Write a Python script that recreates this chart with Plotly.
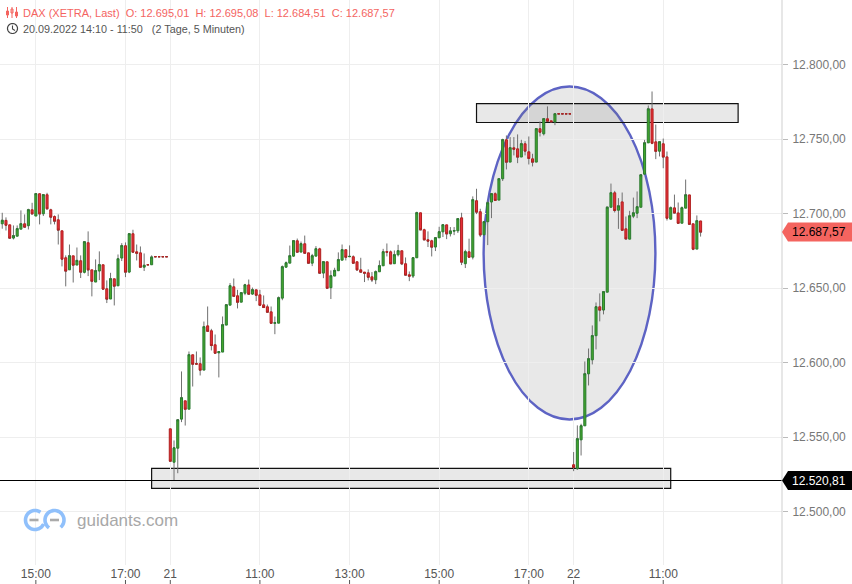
import math
import plotly.graph_objects as go

tick_positions = [10, 34, 46, 70, 94, 118, 142, 154, 178]
tick_labels = ["15:00", "17:00", "21", "11:00", "13:00", "15:00", "17:00", "22", "11:00"]
price_ticks = [12500, 12550, 12600, 12650, 12700, 12750, 12800]
last_price = 12687.57
low_price = 12520.81

opens = [
 12686.0,12693.1,12695.4,12692.4,12683.5,12684.8,12689.5,12693.1,12691.8,12702.5,
 12698.3,12713.3,12699.8,12712.6,12702.5,12698.0,12695.8,12688.4,12670.3,12662.2,
 12671.6,12665.4,12668.3,12660.5,12680.4,12662.2,12654.0,12661.4,12665.6,12649.5,
 12642.6,12656.2,12651.5,12670.1,12678.4,12660.7,12686.4,12674.3,12673.6,12664.0,
 12665.61,12665.6,12671.01,12671.01,12671.01,12671.01,12555.5,12533.1,12542.5,12562.0,
 12574.3,12568.7,12605.2,12599.2,12599.2,12594.9,12624.6,12621.3,12611.9,12606.5,
 12607.0,12625.1,12638.5,12650.8,12644.8,12640.5,12646.5,12652.1,12645.9,12648.8,
 12645.4,12638.7,12637.4,12634.0,12626.4,12626.4,12643.2,12664.0,12666.7,12671.4,
 12681.7,12674.1,12679.7,12673.6,12666.7,12671.4,12676.3,12660.0,12667.6,12650.2,
 12658.0,12661.6,12668.7,12675.7,12671.0,12671.0,12667.6,12662.2,12660.7,12660.2,
 12657.5,12655.5,12660.9,12664.9,12674.4,12674.3,12666.3,12672.3,12675.0,12666.3,
 12658.9,12658.0,12670.3,12700.5,12689.1,12682.4,12681.7,12677.5,12683.7,12687.7,
 12692.4,12686.4,12688.2,12688.4,12697.1,12666.3,12674.3,12670.7,12708.6,12701.2,
 12685.7,12694.5,12707.7,12713.3,12709.0,12723.3,12749.5,12734.5,12744.1,12743.4,
 12737.9,12746.8,12741.4,12736.7,12734.5,12756.9,12753.5,12763.6,12762.2,12761.4,
 12766.91,12766.91,12766.91,12766.91,12531.4,12528.7,12548.1,12557.5,12592.4,12601.8,
 12618.0,12637.4,12635.2,12647.2,12704.2,12713.9,12702.2,12707.8,12689.7,12682.8,
 12698.2,12700.2,12704.2,12726.4,12747.4,12770.2,12748.1,12741.8,12746.8,12738.0,
 12696.2,12703.8,12700.4,12693.5,12703.6,12712.5,12693.1,12676.1,12695.01,
]
closes = [
 12693.6,12695.4,12692.2,12683.5,12685.1,12689.8,12693.1,12690.9,12702.5,12699.8,
 12713.3,12699.8,12712.6,12703.2,12697.6,12694.9,12688.9,12669.4,12661.4,12671.6,
 12665.4,12668.5,12660.7,12681.0,12662.2,12654.6,12661.6,12665.6,12649.3,12642.6,
 12656.2,12651.3,12669.6,12678.4,12660.7,12686.4,12674.1,12673.4,12664.0,12665.2,
 12665.6,12670.7,12671.0,12671.0,12671.0,12671.0,12533.8,12542.7,12561.5,12576.3,
 12568.7,12605.2,12598.9,12599.0,12594.9,12624.0,12621.0,12611.4,12606.3,12607.2,
 12625.3,12638.7,12651.5,12644.5,12640.5,12646.8,12652.1,12645.9,12648.8,12645.2,
 12638.5,12636.9,12633.8,12626.4,12626.6,12643.4,12664.2,12666.9,12671.6,12681.7,
 12674.1,12679.7,12673.4,12666.7,12671.6,12676.3,12660.0,12667.6,12649.9,12658.2,
 12661.8,12669.0,12675.7,12670.7,12671.2,12666.7,12662.2,12660.7,12660.0,12657.3,
 12655.5,12660.9,12664.9,12674.3,12674.1,12666.3,12672.3,12675.0,12666.3,12658.7,
 12658.0,12670.3,12700.5,12689.1,12682.4,12681.5,12677.5,12683.7,12687.7,12692.4,
 12686.4,12688.2,12688.5,12696.5,12667.4,12674.3,12670.7,12709.2,12701.0,12685.7,
 12694.5,12707.2,12713.3,12708.8,12723.3,12749.5,12734.5,12744.1,12743.2,12737.9,
 12746.8,12741.9,12737.0,12734.5,12756.9,12754.6,12763.6,12762.0,12761.6,12766.9,
 12766.9,12766.9,12766.9,12766.9,12529.6,12548.8,12557.5,12592.4,12602.5,12618.0,
 12637.4,12635.2,12647.5,12704.2,12713.9,12702.0,12705.1,12688.8,12683.0,12698.4,
 12700.4,12704.5,12725.9,12747.4,12770.2,12747.2,12741.8,12748.1,12738.0,12696.9,
 12703.8,12700.4,12693.5,12703.8,12712.5,12692.8,12676.1,12695.1,12687.57,
]
highs = [
 12695.0,12700.5,12697.4,12692.4,12692.0,12692.0,12702.1,12699.4,12703.2,12707.2,
 12713.7,12713.3,12712.6,12713.9,12703.2,12698.7,12699.4,12688.4,12671.9,12679.2,
 12671.6,12677.2,12671.9,12681.0,12688.0,12662.2,12669.2,12674.6,12665.6,12655.1,
 12660.2,12656.2,12672.5,12680.1,12680.6,12686.4,12689.1,12679.2,12677.9,12673.2,
 12665.61,12671.9,12671.01,12671.01,12671.01,12671.01,12555.5,12547.7,12561.5,12594.0,
 12574.3,12607.4,12605.2,12607.4,12603.4,12627.5,12637.6,12622.6,12618.8,12607.2,
 12630.9,12638.7,12653.3,12656.4,12648.8,12646.8,12652.8,12655.7,12650.3,12648.8,
 12648.8,12645.0,12638.9,12637.6,12630.9,12644.3,12665.1,12667.8,12678.5,12681.7,
 12683.2,12681.2,12685.2,12673.6,12672.9,12678.1,12677.0,12667.6,12667.6,12661.8,
 12663.6,12673.9,12679.2,12675.7,12678.6,12671.9,12667.6,12670.3,12660.7,12662.5,
 12660.7,12661.8,12668.5,12676.3,12679.9,12675.2,12675.2,12679.0,12675.0,12670.5,
 12661.1,12670.3,12701.2,12700.5,12689.8,12688.0,12682.4,12683.7,12691.1,12692.4,
 12692.4,12690.9,12690.9,12696.5,12700.5,12675.7,12683.1,12711.5,12716.6,12703.2,
 12694.5,12708.8,12713.3,12714.2,12723.3,12750.2,12752.4,12751.3,12751.3,12753.1,
 12749.5,12748.6,12751.7,12740.1,12756.9,12761.8,12763.6,12771.9,12762.2,12766.9,
 12766.91,12766.91,12766.91,12766.91,12539.9,12557.8,12558.9,12600.7,12609.4,12624.9,
 12640.3,12646.4,12647.5,12704.2,12720.1,12715.2,12710.3,12714.1,12698.0,12701.8,
 12710.7,12714.8,12725.9,12749.4,12772.5,12781.9,12759.7,12748.1,12750.3,12741.6,
 12704.7,12712.7,12707.4,12704.7,12722.8,12712.5,12693.1,12698.7,12695.08,
]
lows = [
 12685.0,12689.8,12688.6,12683.5,12682.6,12684.6,12689.5,12690.9,12689.3,12699.8,
 12698.3,12692.7,12698.3,12703.2,12692.7,12692.7,12679.2,12664.5,12651.1,12662.2,
 12653.7,12665.4,12656.7,12659.8,12658.0,12644.4,12654.0,12655.3,12648.8,12639.9,
 12642.6,12638.3,12651.3,12668.1,12657.3,12660.0,12674.1,12668.5,12664.0,12661.4,
 12665.6,12665.6,12671.0,12671.0,12671.0,12671.0,12533.8,12520.81,12525.7,12560.0,
 12557.7,12568.7,12583.9,12598.9,12591.3,12594.9,12621.0,12608.1,12606.3,12590.0,
 12607.0,12625.1,12638.5,12644.5,12636.3,12640.5,12645.2,12645.9,12645.4,12641.2,
 12638.5,12636.9,12633.8,12626.4,12619.0,12626.4,12641.8,12663.5,12666.7,12670.9,
 12674.1,12674.1,12673.4,12666.7,12664.7,12671.4,12660.0,12656.6,12649.9,12642.6,
 12658.0,12661.6,12668.7,12668.5,12670.7,12666.7,12662.2,12660.7,12654.0,12655.1,
 12654.0,12652.6,12660.9,12664.9,12671.2,12666.3,12666.3,12671.2,12665.4,12658.7,
 12654.6,12656.7,12670.3,12689.1,12682.4,12677.5,12671.2,12674.8,12683.7,12684.2,
 12682.8,12684.6,12685.5,12686.9,12665.4,12663.4,12670.7,12669.2,12699.6,12684.2,
 12685.7,12678.8,12696.9,12708.8,12709.0,12721.8,12729.6,12734.5,12739.0,12733.8,
 12737.9,12739.0,12732.9,12731.6,12734.5,12751.7,12752.4,12762.0,12761.6,12759.3,
 12766.9,12766.9,12766.9,12766.9,12527.1,12528.0,12537.6,12557.5,12584.6,12598.7,
 12608.8,12627.6,12632.3,12647.2,12704.2,12700.7,12689.7,12688.8,12683.0,12682.8,
 12696.9,12696.9,12704.2,12726.4,12747.4,12746.5,12736.5,12738.3,12730.4,12695.3,
 12696.2,12700.4,12693.5,12693.5,12703.6,12692.8,12675.4,12676.1,12684.51,
]
assert len(opens) == len(closes) == len(highs) == len(lows) == 189
bars = list(range(len(opens)))

W, H = 852, 584
PLOT_W = 782
FONT = "Liberation Sans"
RED, GREEN = "#e8303a", "#44a82c"
RED_LINE, GREEN_LINE = "#b0201f", "#2a7a30"

def px(x):
    return x / PLOT_W
def py(y):
    return 1 - y / H

fig = go.Figure()
# wicks: same bars, no body
fig.add_trace(go.Candlestick(
    x=bars, open=closes, high=highs, low=lows, close=closes, whiskerwidth=0,
    increasing=dict(line=dict(color="#707070", width=1), fillcolor="#707070"),
    decreasing=dict(line=dict(color="#707070", width=1), fillcolor="#707070"),
    showlegend=False, hoverinfo="skip"))
# bodies
fig.add_trace(go.Candlestick(
    x=bars, open=opens, close=closes,
    high=[max(o, c) for o, c in zip(opens, closes)],
    low=[min(o, c) for o, c in zip(opens, closes)], whiskerwidth=0,
    increasing=dict(line=dict(color=GREEN_LINE, width=1), fillcolor=GREEN),
    decreasing=dict(line=dict(color=RED_LINE, width=1), fillcolor=RED),
    showlegend=False))

shapes = []
zone_fill = "rgba(120,120,120,0.17)"
shapes.append(dict(type="circle", layer="below", xref="x", yref="y",
                   x0=129.9, x1=175.9, y0=12561.8, y1=12785.2,
                   fillcolor=zone_fill, line=dict(color="#5d63c4", width=2.4)))
shapes.append(dict(type="rect", layer="below", xref="x", yref="y",
                   x0=128.0, x1=198.05, y0=12761.1, y1=12773.8,
                   fillcolor=zone_fill, line=dict(color="#111111", width=1.2)))
shapes.append(dict(type="rect", layer="below", xref="x", yref="y",
                   x0=41.0, x1=180.0, y0=12515.5, y1=12528.9,
                   fillcolor=zone_fill, line=dict(color="#111111", width=1.2)))
shapes.append(dict(type="line", xref="paper", yref="y", x0=0, x1=1,
                   y0=low_price, y1=low_price, line=dict(color="#000000", width=1)))
# right axis line down to the bottom edge
shapes.append(dict(type="line", xref="paper", yref="paper", x0=1, x1=1, y0=0, y1=1,
                   line=dict(color="#cfcfcf", width=1)))
# bottom tick marks
for t in tick_positions:
    shapes.append(dict(type="line", xref="x", yref="paper", x0=t, x1=t, y0=0, y1=4 / H,
                       line=dict(color="#555555", width=1)))

def tag(price, color):
    half = 6.4
    p = (f"M {px(782)} {price} L {px(788)} {price + half} L {px(852)} {price + half} "
         f"L {px(852)} {price - half} L {px(788)} {price - half} Z")
    shapes.append(dict(type="path", xref="paper", yref="y", path=p,
                       fillcolor=color, line=dict(width=0), layer="above"))
tag(last_price, "#f4645f")
tag(low_price, "#000000")

def polyline(points, color, width):
    d = "M " + " L ".join(f"{px(a)} {py(b)}" for a, b in points)
    shapes.append(dict(type="path", xref="paper", yref="paper", path=d,
                       line=dict(color=color, width=width), layer="above"))

def arc(cx, cy, r, a0, a1, n=40):
    return [(cx + r * math.cos(math.radians(a0 + (a1 - a0) * i / n)),
             cy - r * math.sin(math.radians(a0 + (a1 - a0) * i / n))) for i in range(n + 1)]

# header candle icon
HEAD_RED = "#f4645f"
for ix, top, bot, bt, bb in [(7.5, 7, 18, 11, 15), (12, 7, 18, 9, 13), (16.5, 7, 18, 12, 16)]:
    polyline([(ix, top), (ix, bot)], HEAD_RED, 1)
    polyline([(ix - 1, bt), (ix + 1, bt), (ix + 1, bb), (ix - 1, bb), (ix - 1, bt)], HEAD_RED, 1)
# clock icon
polyline(arc(12.5, 28.5, 5, 0, 360), "#444444", 1.2)
polyline([(12.5, 25.5), (12.5, 29), (15, 30.5)], "#444444", 1.1)
# logo
LOGO = "#90c0fb"
polyline(arc(35, 520, 9.5, 55, 335), LOGO, 3.6)
polyline(arc(54.5, 520, 9.5, 235, -50), LOGO, 3.6)
polyline([(29.5, 520), (38.5, 520)], "#aaaaaa", 2.6)
polyline([(50, 520), (59, 520)], "#aaaaaa", 2.6)

NB = "\u00a0"
head1 = f"DAX (XETRA, Last){NB}{NB}O: 12.695,01{NB}{NB}H: 12.695,08{NB}{NB}L: 12.684,51{NB}{NB}C: 12.687,57"
head2 = f"20.09.2022 14:10 - 11:50{NB}{NB}{NB}(2 Tage, 5 Minuten)"
annotations = [
    dict(text=head1, xref="paper", yref="paper", x=px(21), y=py(13), xanchor="left", yanchor="middle",
         showarrow=False, font=dict(family=FONT, size=11, color=HEAD_RED)),
    dict(text=head2, xref="paper", yref="paper", x=px(21), y=py(29), xanchor="left", yanchor="middle",
         showarrow=False, font=dict(family=FONT, size=10.8, color="#555555")),
    dict(text="guidants.com", xref="paper", yref="paper", x=px(75), y=py(520), xanchor="left", yanchor="middle",
         showarrow=False, font=dict(family=FONT, size=17, color="#a8a8a8")),
    dict(text="12.687,57", xref="paper", yref="y", x=px(790), y=last_price, xanchor="left", yanchor="middle",
         showarrow=False, font=dict(family=FONT, size=12, color="#000000")),
    dict(text="12.520,81", xref="paper", yref="y", x=px(790), y=low_price, xanchor="left", yanchor="middle",
         showarrow=False, font=dict(family=FONT, size=12, color="#ffffff")),
]

fig.update_layout(
    width=W, height=H, margin=dict(l=0, r=W - PLOT_W, t=0, b=0, pad=0),
    paper_bgcolor="#ffffff", plot_bgcolor="#ffffff",
    separators=",.", boxmode="overlay", boxgap=0.45, boxgroupgap=0,
    showlegend=False, shapes=shapes, annotations=annotations,
    font=dict(family=FONT, size=12, color="#666666"),
    xaxis=dict(range=[0.4, 209.8], tickvals=tick_positions, ticktext=tick_labels,
               showgrid=True, gridcolor="#eeeeee", gridwidth=1, zeroline=False,
               showline=False, ticks="", rangeslider=dict(visible=False),
               tickfont=dict(family=FONT, size=12, color="#555555"), tickangle=0),
    yaxis=dict(range=[12464.1, 12843.3], domain=[19 / H, 1], side="right",
               tickvals=price_ticks, tickformat=",.2f", showgrid=True, gridcolor="#eeeeee",
               gridwidth=1, zeroline=False, showline=False, ticks="outside", ticklen=5,
               ticklabelstandoff=2,
               tickcolor="#bbbbbb", tickfont=dict(family=FONT, size=12, color="#777777")),
)
fig.write_html("out.html", config={"displayModeBar": False},
               post_script="document.body.style.margin='0';")
